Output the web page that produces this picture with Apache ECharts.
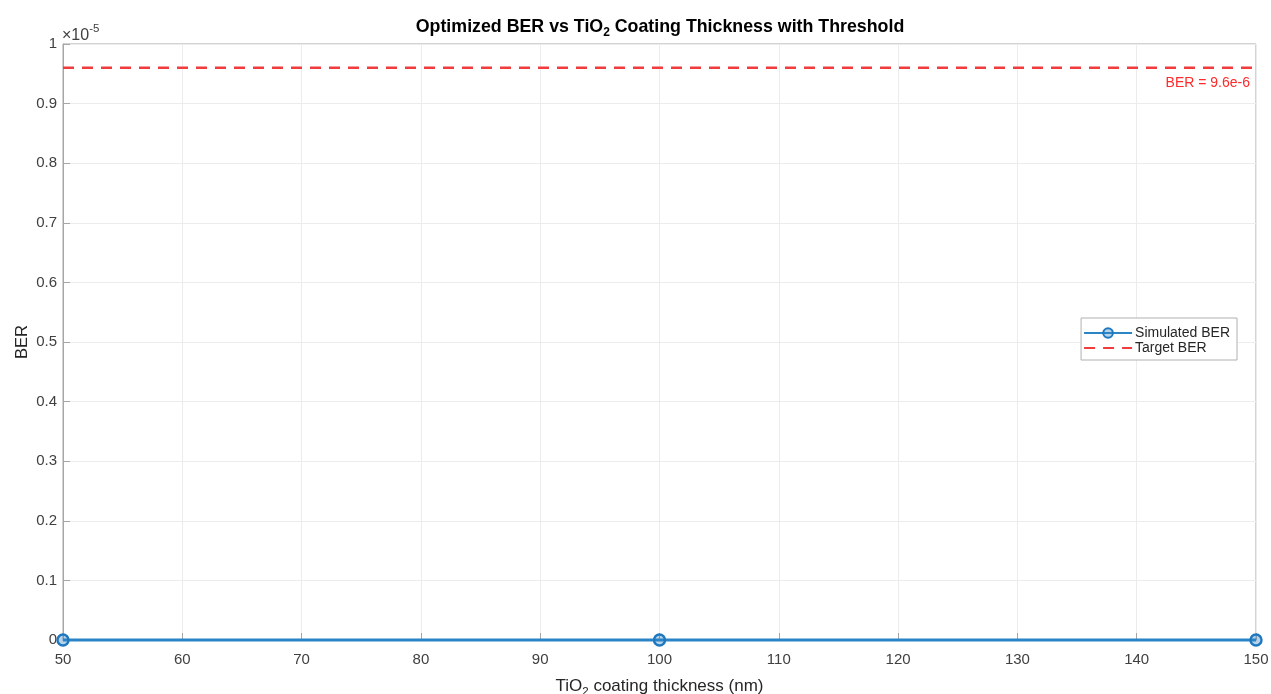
<!DOCTYPE html>
<html>
<head>
<meta charset="utf-8">
<script src="https://cdn.jsdelivr.net/npm/echarts@6/dist/echarts.min.js"></script>
<style>
  html, body { margin: 0; padding: 0; background: #fff; }
  #chart { width: 1271px; height: 694px; }
</style>
</head>
<body>
<div id="chart"></div>
<script>
// thickness values (nm) and simulated BER
const thickness = [50, 100, 150];
const simulatedBer = [0, 0, 0];
// target threshold, drawn across the x range
const targetBer = 9.6e-6;
const targetX = [50, 150];

const font = "'Liberation Sans', Arial, sans-serif";
const axisGray = "#a6a6a6";
const textGray = "#404040";

let myChart = echarts.init(document.getElementById("chart"));

let option = {
  animation: false,
  textStyle: { fontFamily: font },
  title: {
    text: "{t|Optimized BER vs TiO}{s|2}{t| Coating Thickness with Threshold}",
    left: 655,
    textAlign: "center",
    top: 10,
    textStyle: {
      rich: {
        t: { fontFamily: font, fontSize: 17.8, fontWeight: "bold", color: "#000" },
        s: { fontFamily: font, fontSize: 12, fontWeight: "bold", color: "#000", padding: [12, 0, 0, 0] }
      }
    }
  },
  grid: {
    left: 63,
    right: 15,
    top: 44,
    bottom: 54,
    outerBoundsMode: "none",
    show: true,
    borderColor: axisGray,
    borderWidth: 1,
    backgroundColor: "#fff"
  },
  legend: {
    orient: "vertical",
    right: 34,
    top: 318,
    backgroundColor: "#fff",
    borderColor: "#b0b0b0",
    borderWidth: 1,
    borderRadius: 0,
    padding: [8, 7, 5, 2],
    itemWidth: 48,
    itemHeight: 12,
    itemGap: 1,
    textStyle: { fontFamily: font, fontSize: 14, color: "#262626", lineHeight: 14, padding: [0, 0, 0, -2] },
    data: [
      { name: "Simulated BER" },
      { name: "Target BER", itemStyle: { opacity: 0 } }
    ]
  },
  xAxis: {
    type: "value",
    min: 50,
    max: 150,
    interval: 10,
    name: "{t|TiO}{s|2}{t| coating thickness (nm)}",
    nameLocation: "middle",
    nameGap: 35,
    nameTextStyle: {
      rich: {
        t: { fontFamily: font, fontSize: 17, color: "#262626" },
        s: { fontFamily: font, fontSize: 11.5, color: "#262626", padding: [11, 0, 0, 0] }
      }
    },
    axisLine: { show: true, lineStyle: { color: axisGray } },
    axisTick: { show: true, inside: true, length: 7, lineStyle: { color: axisGray } },
    axisLabel: { color: textGray, fontSize: 15, margin: 12 },
    splitLine: { show: true, lineStyle: { color: "#ececec" } }
  },
  yAxis: {
    type: "value",
    min: 0,
    max: 1e-5,
    interval: 1e-6,
    name: "BER",
    nameLocation: "middle",
    nameGap: 32,
    nameMoveOverlap: false,
    nameTextStyle: { fontFamily: font, fontSize: 16.5, color: "#262626" },
    axisLine: { show: true, lineStyle: { color: axisGray } },
    axisTick: { show: true, inside: true, length: 7, lineStyle: { color: axisGray } },
    axisLabel: {
      color: textGray,
      fontSize: 15,
      margin: 6,
      formatter: function (v) {
        return String(Math.round(v * 1e6) / 10);
      }
    },
    splitLine: { show: true, lineStyle: { color: "#ececec" } }
  },
  graphic: [
    {
      type: "text",
      left: 62,
      top: 23,
      style: {
        text: "{a|×10}{b|-5}",
        rich: {
          a: { fontFamily: font, fontSize: 16, fill: textGray, padding: [5, 0, 0, 0] },
          b: { fontFamily: font, fontSize: 11.5, fill: textGray, padding: [0, 0, 8, 0] }
        }
      }
    }
  ],
  series: [
    {
      name: "Simulated BER",
      type: "line",
      data: thickness.map((x, i) => [x, simulatedBer[i]]),
      symbol: "circle",
      symbolSize: 11,
      clip: false,
      z: 3,
      lineStyle: { color: "#2a84c6", width: 3 },
      itemStyle: { color: "rgba(42,132,198,0.35)", borderColor: "#1f78bf", borderWidth: 2.4 }
    },
    {
      name: "Target BER",
      type: "line",
      data: targetX.map((x) => [x, targetBer]),
      symbol: "none",
      z: 2,
      lineStyle: { color: "#f03c3c", width: 2.5, type: [11, 8] },
      itemStyle: { color: "#f03c3c" },
      markPoint: {
        silent: true,
        symbol: "rect",
        symbolSize: 2,
        itemStyle: { color: "rgba(0,0,0,0)" },
        label: {
          show: true,
          position: "bottom",
          align: "right",
          distance: 7,
          offset: [-6, 0],
          formatter: "BER = 9.6e-6",
          color: "#ff2a2a",
          fontFamily: font,
          fontSize: 14
        },
        data: [{ coord: [targetX[targetX.length - 1], targetBer] }]
      }
    }
  ]
};

myChart.setOption(option);
</script>
</body>
</html>
